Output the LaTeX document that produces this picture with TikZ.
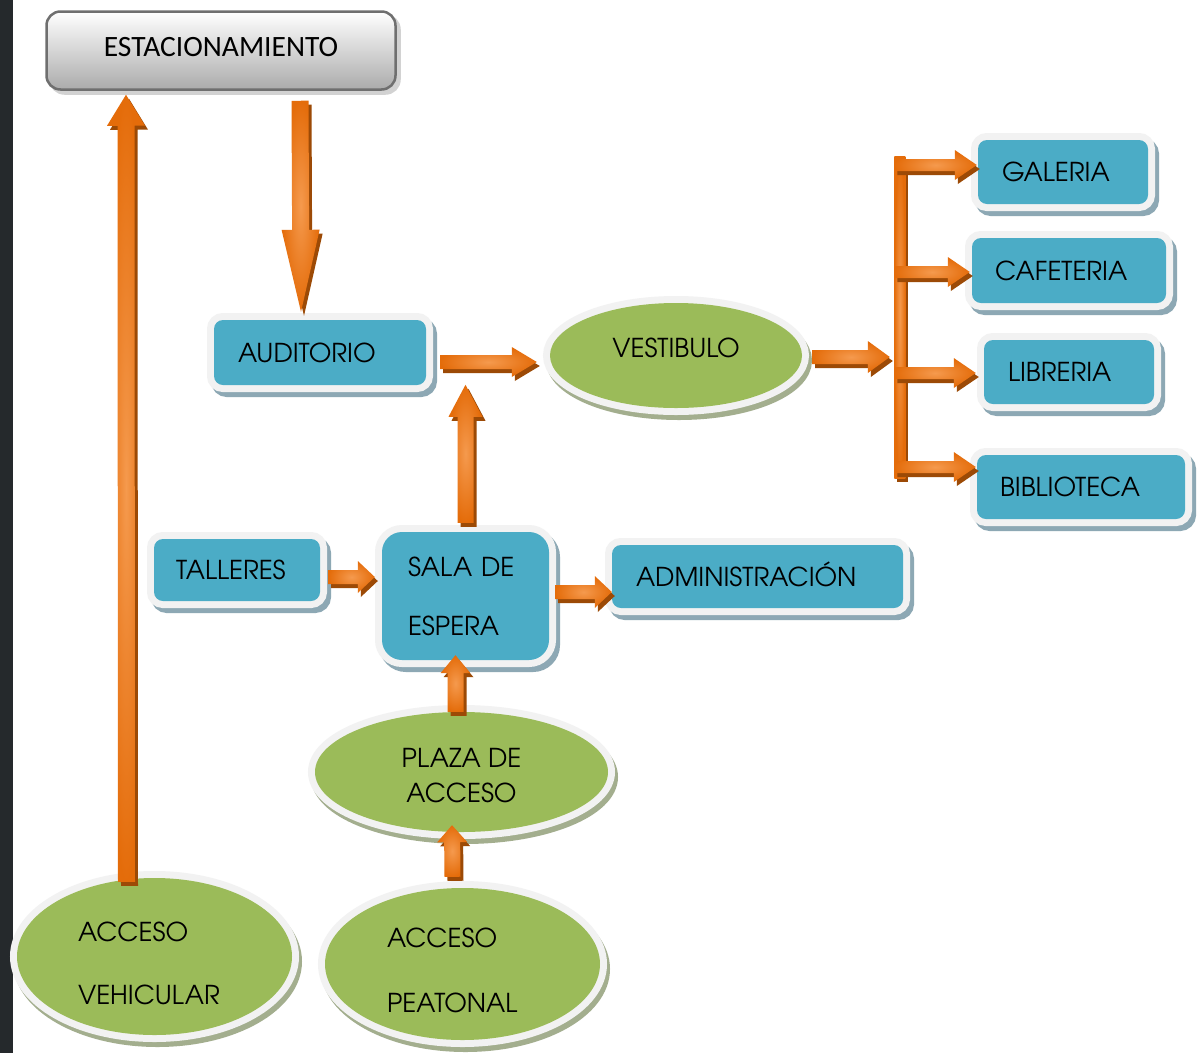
\documentclass[tikz,border=0pt]{standalone}
\usepackage{fontspec}
\setmainfont{TeX Gyre Adventor}
\newfontfamily\calfont{Carlito}
\usetikzlibrary{shapes.geometric,calc}
\definecolor{boxblue}{HTML}{4BACC6}
\definecolor{framecol}{HTML}{F2F2F2}
\definecolor{boxshadow}{HTML}{8DA8B4}
\definecolor{ellgreen}{HTML}{9BBB59}
\definecolor{ellshadow}{HTML}{A3AE8E}
\definecolor{ordark}{HTML}{E46C0A}
\definecolor{orlight}{HTML}{F59A4E}
\definecolor{orshadow}{HTML}{9C4A06}
\definecolor{estborder}{HTML}{6F6F6F}
\definecolor{estgray}{HTML}{ABABAB}
\definecolor{estshadow}{HTML}{D2D2D2}
\definecolor{darkstrip}{HTML}{25292C}
\newcommand{\topstrut}[1]{\rule{0pt}{#1}}
\tikzset{
  every node/.style={font=\fontsize{26}{31}\selectfont, text=black},
  bluebox/.style={rectangle, rounded corners=9pt, fill=boxblue, inner ysep=0pt, align=left,
    preaction={fill=boxshadow, draw=boxshadow, line width=14pt, transform canvas={shift={(4,5)}}},
    preaction={fill=framecol, draw=framecol, line width=14pt}},
  greenell/.style={ellipse, fill=ellgreen, inner sep=0pt,
    preaction={fill=ellshadow, draw=ellshadow, line width=14pt, transform canvas={shift={(3,5)}}},
    preaction={fill=framecol, draw=framecol, line width=14pt}},
  estbox/.style={rectangle, rounded corners=14pt, minimum width=349pt, minimum height=78pt,
    draw=estborder, line width=2.5pt, top color=white, bottom color=estgray,
    font=\calfont\fontsize{29.5}{34}\selectfont,
    preaction={fill=estshadow, draw=estshadow, line width=2.5pt, transform canvas={shift={(4,4)}}}},
  arrowshade/.style={inner color=orlight, outer color=ordark},
  arrowshadow/.style={fill=orshadow, transform canvas={shift={(3,4)}}}
}
\newcommand{\barrowpath}[3]{%
  \path[#1] ($(bS)!#2!90:(bE)$) -- ($(bH)!#2!90:(bE)$) -- ($(bH)!#3!90:(bE)$) -- (bE)
    -- ($(bH)!#3!-90:(bE)$) -- ($(bH)!#2!-90:(bE)$) -- ($(bS)!#2!-90:(bE)$) -- cycle;}
% start, end, shaft half width, head half width, head length
\newcommand{\barrow}[5]{%
  \coordinate (bS) at (#1);
  \coordinate (bE) at (#2);
  \coordinate (bH) at ($(bE)!#5!(bS)$);
  \barrowpath{arrowshadow}{#3}{#4}%
  \barrowpath{arrowshade}{#3}{#4}%
}
\begin{document}
\begin{tikzpicture}[x=1pt,y=-1pt]
\fill[white] (0,0) rectangle (1197,1053);
\useasboundingbox (0,0) rectangle (1197,1053);
\fill[darkstrip] (0,0) rectangle (13,1053);

% nodes
\node[estbox] (est) at (221,50.5) {\raisebox{3pt}[\height][\depth]{ESTACIONAMIENTO}};
\node[bluebox, text width=164pt, inner xsep=24pt, minimum height=65pt] (aud) at (320,352.5) {AUDITORIO};
\node[greenell, minimum width=252pt, minimum height=105pt] (vest) at (676,355.5) {\raisebox{8pt}[\height][\depth]{VESTIBULO}};
\node[bluebox, text width=122pt, inner xsep=24pt, minimum height=64pt] (gal) at (1063,172) {GALERIA};
\node[bluebox, text width=148pt, inner xsep=23pt, minimum height=65pt] (caf) at (1069,270.5) {CAFETERIA};
\node[bluebox, text width=122pt, inner xsep=24pt, minimum height=64pt] (lib) at (1069,372) {LIBRERIA};
\node[bluebox, text width=162pt, inner xsep=23pt, minimum height=64pt] (bib) at (1081,487) {BIBLIOTECA};
\node[bluebox, text width=122pt, inner xsep=22pt, minimum height=62pt] (tal) at (237,570) {TALLERES};
\node[bluebox, rounded corners=20pt, text width=115pt, inner xsep=26pt, minimum height=128pt,
  font=\fontsize{26}{59}\selectfont] (sala) at (465.5,596) {SALA DE\\ESPERA};
\node[bluebox, text width=243pt, inner xsep=24pt, minimum height=63pt] (adm) at (757.5,576.5) {\raisebox{0pt}[19pt][0pt]{ADMINISTRACIÓN}};
\node[greenell, minimum width=293pt, minimum height=120pt, align=center,
  font=\fontsize{26}{35}\selectfont] (plaza) at (461.5,772) {\topstrut{27pt}PLAZA DE\\ACCESO};
\node[greenell, minimum width=275pt, minimum height=157pt, text width=153pt, align=left,
  font=\fontsize{26}{63}\selectfont] (veh) at (154.5,956.5) {\topstrut{33pt}ACCESO\\VEHICULAR};
\node[greenell, minimum width=275pt, minimum height=152pt, text width=151pt, align=left,
  font=\fontsize{26}{65}\selectfont] (peat) at (462.5,964) {\topstrut{33pt}ACCESO\\PEATONAL};

% helper coordinates
\coordinate (upend) at ($(sala.north)+(0,-147)$);
\coordinate (bartop) at ($(gal.west)+(-78,-16)$);
\coordinate (barbot) at ($(bartop)+(0,322)$);

% connectors
\barrow{$(veh.north)+(-28,4)$}{$(est.south)+(-95,4)$}{8.5pt}{19pt}{31pt}
\barrow{$(est.south)+(79,10)$}{$(aud.north)+(-19,-8)$}{8.5pt}{19pt}{82pt}
\barrow{$(aud.east)+(14,9.5)$}{$(vest.west)+(-13,6.5)$}{7pt}{15pt}{25pt}
\barrow{$(sala.north)+(0,-9)$}{upend}{8pt}{17pt}{32pt}
\barrow{$(vest.east)+(10,1.5)$}{$(bartop|-vest.east)+(-10,1.5)$}{7pt}{16pt}{22pt}
\barrow{$(tal.east)+(8,7)$}{$(sala.west)+(-7,-19)$}{7pt}{16pt}{17pt}
\barrow{$(sala.east)+(6,-4)$}{$(adm.west)+(0,15.5)$}{7pt}{16pt}{17pt}
\barrow{$(plaza.north)+(-6,0)$}{$(sala.south)+(-10,-5)$}{8pt}{15pt}{18pt}
\barrow{$(peat.north)+(-10,-11)$}{$(plaza.south)+(-9.5,-7)$}{8pt}{15pt}{17pt}

% bracket
\fill[arrowshadow] ($(bartop)+(-5.5,0)$) rectangle ($(barbot)+(5.5,0)$);
\shade[arrowshade] ($(bartop)+(-5.5,0)$) rectangle ($(barbot)+(5.5,0)$);
\barrow{$(bartop|-gal.west)+(-5.5,-7)$}{$(gal.west)+(-1,-7)$}{6pt}{15pt}{22pt}
\barrow{$(bartop|-caf.west)+(-5.5,1.5)$}{$(caf.west)+(-2,1.5)$}{6pt}{15pt}{22pt}
\barrow{$(bartop|-lib.west)+(-5.5,1)$}{$(lib.west)+(-8,1)$}{6pt}{15pt}{22pt}
\barrow{$(bartop|-bib.west)+(-5.5,-20)$}{$(bib.west)+(-1,-20)$}{6pt}{15pt}{22pt}
\end{tikzpicture}
\end{document}
